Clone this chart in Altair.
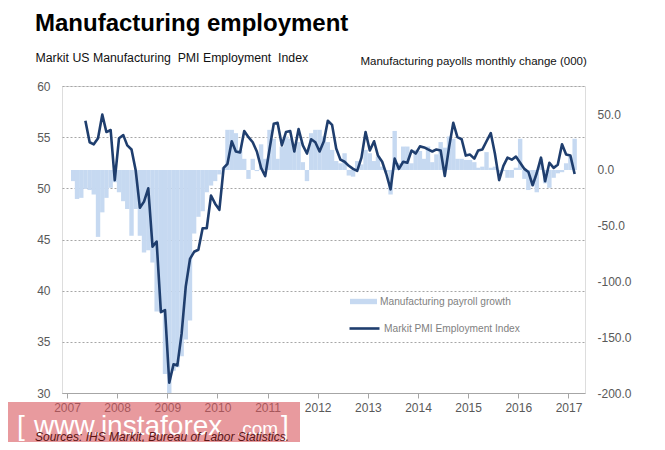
import altair as alt
import pandas as pd

# ---------------- data ----------------
TITLE = "Manufacturing employment"
LEFT_TITLE = "Markit US Manufacturing\u00a0 PMI Employment\u00a0 Index"
RIGHT_TITLE = "Manufacturing  payolls monthly change (000)"
SOURCE = "Sources: IHS Markit, Bureau of Labor Statistics."
BAR_LABEL = "Manufacturing payroll growth"
LINE_LABEL = "Markit PMI Employment Index"
WM_PARTS = ["[", "www.instaforex", ".com", "]"]

YEARS = list(range(2007, 2018))
LEFT_TICKS = [30, 35, 40, 45, 50, 55, 60]
RIGHT_TICKS = [-200, -150, -100, -50, 0, 50]

# Manufacturing payrolls monthly change (000), Feb 2007 .. Feb 2017
PAYROLL_START = "2007-02-01"
PAYROLL = [
    -10, -26, -25, -17, -18, -22, -60, -38, -25, -16, -11,
    -20, -28, -35, -59, -35, -59, -74, -72, -83, -127, -127, -183,
    -200, -180, -177, -167, -152, -135, -57, -42, -37, -20, -14, -10,
    -4, 2, 36, 36, 33, 18, 10, -8, 10, -1, 23, 10,
    36, 28, 10, 21, 30, 28, 20, 25, 7, -10, 33, 36,
    36, 30, 25, 18, 8, 6, 15, -5, -6, 8, 5, 18,
    15, 8, 12, 3, -2, -22, 35, 6, 21, 21, 6, 18,
    17, 10, 21, 7, 14, 25, 20, 30, 28, 10, 10, 9,
    9, 7, 2, 3, 16, 2, 3, -5, -1, -7, -7, 2,
    28, -8, -18, -14, -20, 10, -12, -16, -7, -3, -2, 6,
    12, 28,
]

# Markit US Manufacturing PMI Employment Index, May 2007 .. Feb 2017
PMI_START = "2007-05-01"
PMI = [
    56.6, 54.5, 54.3, 54.9, 57.2, 55.5, 55.7, 50.8,
    54.9, 55.2, 54.2, 53.8, 51.8, 48.1, 48.7, 50.0, 44.3, 44.8, 37.9, 38.1,
    31.0, 32.8, 32.7, 35.8, 40.4, 43.1, 43.8, 44.0, 46.1, 46.1, 49.3, 48.5,
    47.9, 52.0, 52.4, 54.6, 53.6, 53.5, 55.6, 55.0, 54.5, 53.6, 52.0, 51.2,
    53.8, 56.3, 56.4, 54.2, 55.5, 55.6, 53.6, 55.8, 54.2, 53.4, 54.8, 54.5,
    53.6, 54.6, 56.6, 56.2, 53.9, 52.8, 52.6, 52.2, 51.9, 51.7, 53.0, 55.5,
    53.7, 54.6, 53.2, 52.6, 51.4, 49.9, 52.9, 51.9, 52.6, 52.5, 53.7, 53.4,
    54.1, 54.0, 53.8, 53.6, 53.8, 53.7, 51.2, 54.0, 56.4, 55.0, 54.8, 53.2,
    53.3, 52.9, 53.7, 53.8, 54.6, 55.4, 53.4, 50.8, 52.2, 53.0, 52.8, 53.1,
    52.5, 51.9, 51.6, 50.3, 51.5, 53.0, 50.7, 52.5, 52.0, 52.3, 54.3, 53.3,
    53.2, 51.4,
]

# ---------------- style ----------------
FONT = "Liberation Sans"
BAR_COLOR = "#c6d9f1"
LINE_COLOR = "#1f3e6e"
GRID_COLOR = "#a6a6a6"
LABEL_COLOR = "#595959"

W, H = 523, 307

mid = pd.Timedelta(days=14)
bars_df = pd.DataFrame({
    "date": pd.date_range(PAYROLL_START, periods=len(PAYROLL), freq="MS") + mid,
    "value": PAYROLL,
    "series": BAR_LABEL,
})
pmi_df = pd.DataFrame({
    "date": pd.date_range(PMI_START, periods=len(PMI), freq="MS") + mid,
    "value": PMI,
    "series": LINE_LABEL,
})

x_enc = alt.X(
    "date:T",
    title=None,
    scale=alt.Scale(domain=[alt.DateTime(year=2007, month=1, date=1),
                            alt.DateTime(year=2017, month=3, date=26)]),
    axis=alt.Axis(values=[alt.DateTime(year=y, month=1, date=1) for y in YEARS],
                  format="%Y", grid=False, domainColor=GRID_COLOR, tickColor=GRID_COLOR,
                  tickSize=5, labelColor=LABEL_COLOR, labelFontSize=12, labelPadding=4,
                  labelFont=FONT),
)

bars = alt.Chart(bars_df).mark_bar(size=4.4).encode(
    x=x_enc,
    y=alt.Y("value:Q",
            scale=alt.Scale(domain=[-200, 75.3], nice=False, zero=False),
            axis=alt.Axis(orient="right", values=RIGHT_TICKS,
                          labelExpr="(datum.value < 0 ? '-' : '') + format(abs(datum.value), '.1f')",
                          grid=False, domain=False, ticks=False, tickSize=0, labelPadding=12,
                          labelColor=LABEL_COLOR, labelFontSize=12, labelFont=FONT,
                          title=RIGHT_TITLE, titleAngle=0, titleX=-225, titleY=-22,
                          titleAlign="left", titleBaseline="alphabetic",
                          titleFontWeight="normal", titleFontSize=11.5, titleColor="#111111",
                          titleFont=FONT)),
    y2=alt.datum(0),
    color=alt.Color("series:N",
                    scale=alt.Scale(domain=[BAR_LABEL], range=[BAR_COLOR]),
                    legend=alt.Legend(orient="none", legendX=288, legendY=202, title=None,
                                      symbolType="M-1,-0.2H1V0.2H-1Z", symbolSize=729,
                                      symbolStrokeWidth=0, labelFont=FONT, labelFontSize=10.2,
                                      labelColor="#7f7f7f", labelOffset=3)),
)

line = alt.Chart(pmi_df).mark_line(strokeWidth=2.6, strokeJoin="round").encode(
    x=x_enc,
    y=alt.Y("value:Q",
            scale=alt.Scale(domain=[30, 60], nice=False, zero=False),
            axis=alt.Axis(orient="left", values=LEFT_TICKS, grid=True, gridDash=[2, 2],
                          gridColor=GRID_COLOR, gridWidth=1, domain=False, ticks=False,
                          tickSize=0, labelPadding=12, labelColor=LABEL_COLOR,
                          labelFontSize=12, labelFont=FONT,
                          title=LEFT_TITLE, titleAngle=0, titleX=-27, titleY=-25,
                          titleAlign="left", titleBaseline="alphabetic",
                          titleFontWeight="normal", titleFontSize=12.3, titleColor="#111111",
                          titleFont=FONT)),
    stroke=alt.Stroke("series:N",
                      scale=alt.Scale(domain=[LINE_LABEL], range=[LINE_COLOR]),
                      legend=alt.Legend(orient="none", legendX=286, legendY=226, title=None,
                                        symbolType="stroke", symbolSize=900,
                                        symbolStrokeWidth=2.6, labelFont=FONT,
                                        labelFontSize=10.2, labelColor="#7f7f7f",
                                        labelOffset=3)),
)

title = alt.Chart(pd.DataFrame({"t": [TITLE]})).mark_text(
    align="left", baseline="alphabetic", fontSize=24, fontWeight="bold", font=FONT,
    color="black").encode(text="t:N", x=alt.value(-27), y=alt.value(-55))

wm_box = alt.Chart(pd.DataFrame({"a": [0]})).mark_rect(
    color="#d9575e", opacity=0.6).encode(
    x=alt.value(-62), x2=alt.value(238), y=alt.value(316), y2=alt.value(368))


def wm(txt, x, size):
    return alt.Chart(pd.DataFrame({"t": [txt]})).mark_text(
        align="left", baseline="alphabetic", fontSize=size, font=FONT,
        color="white").encode(text="t:N", x=alt.value(x), y=alt.value(349))


wm_layers = [wm(WM_PARTS[0], -45, 28), wm(WM_PARTS[1], -28, 28),
             wm(WM_PARTS[2], 175, 19), wm(WM_PARTS[3], 219, 28)]

source = alt.Chart(pd.DataFrame({"t": [SOURCE]})).mark_text(
    align="left", baseline="alphabetic", fontSize=12, fontStyle="italic", font=FONT,
    color="#5a1414").encode(text="t:N", x=alt.value(-27), y=alt.value(355))

chart = alt.layer(bars, line, title, wm_box, *wm_layers, source).resolve_scale(
    y="independent", color="independent", stroke="independent"
).properties(
    width=W, height=H,
    autosize=alt.AutoSizeParams(type="none"),
    padding={"left": 54, "top": 78, "right": 64, "bottom": 49},
).configure_view(stroke=None).configure(font=FONT)

chart.save("out.html", embed_options={"renderer": "svg", "actions": False})
